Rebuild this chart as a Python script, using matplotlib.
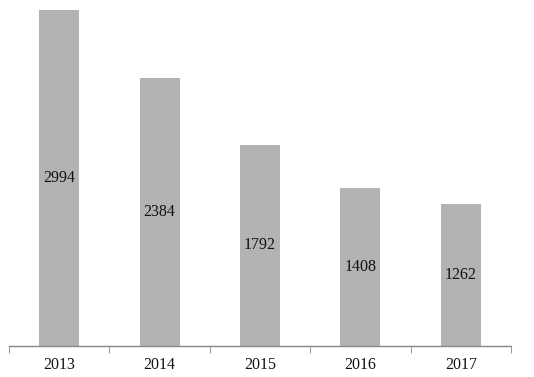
import numpy as np
import matplotlib.pyplot as plt
import matplotlib as mpl

years = ['2013', '2014', '2015', '2016', '2017']
values = [2994, 2384, 1792, 1408, 1262]

def main():
    mpl.rcParams['font.family'] = ['Liberation Serif', 'DejaVu Serif']
    mpl.rcParams['font.size'] = 11.5

    fig = plt.figure(figsize=(5.34, 3.77), dpi=100)
    ax = fig.add_axes([9/534, 31/377, 502/534, 336.7/377])

    x = np.arange(len(years))
    bars = ax.bar(x, values, width=0.4, color='#b3b3b3', edgecolor='none')
    for b, v in zip(bars, values):
        ax.text(b.get_x() + b.get_width()/2, v/2, str(v),
                ha='center', va='center', color='#111111')

    ax.set_xlim(-0.5, len(years) - 0.5)
    ax.set_ylim(0, 3000)
    ax.set_xticks(x)
    ax.set_xticklabels(years)
    ax.set_xticks(np.arange(-0.5, len(years)), minor=True)
    ax.tick_params(axis='x', which='major', length=0, pad=8, colors='#111111')
    ax.tick_params(axis='x', which='minor', length=5, color='#888888', direction='out')
    ax.set_yticks([])
    for s in ['top', 'right', 'left']:
        ax.spines[s].set_visible(False)
    ax.spines['bottom'].set_color('#888888')
    ax.spines['bottom'].set_linewidth(1.0)

    fig.savefig('out.png', dpi=100)

if __name__ == '__main__':
    main()
